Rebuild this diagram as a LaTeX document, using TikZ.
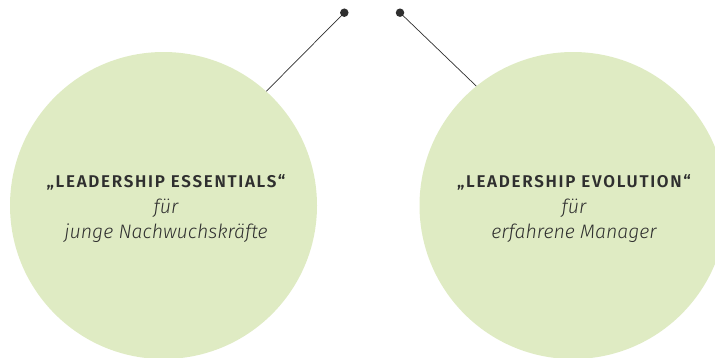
\documentclass[tikz,border=0pt]{standalone}
\usepackage{fontspec}
\setmainfont{Fira Sans Light}[ItalicFont={Fira Sans Light Italic}]
\newfontfamily\headfont{Fira Sans SemiBold}[LetterSpace=10]
\definecolor{circfill}{HTML}{DFEBC3}
\definecolor{ink}{HTML}{2F2F2F}
\begin{document}
\begin{tikzpicture}[x=1pt,y=-1pt,
  bubble/.style={circle,fill=circfill,minimum size=307pt,inner sep=0pt},
  label/.style={align=center,text=ink,font=\fontsize{19.5}{25.5}\selectfont\itshape},
  dot/.style={circle,fill=ink,inner sep=0pt,minimum size=8.5pt},
  connector/.style={draw=ink,line width=0.7pt}]
\useasboundingbox (0,0) rectangle (715,357);
\node[bubble] (circL) at (163.5,205.5) {};
\node[bubble] (circR) at (573,205.5) {};
\node[dot] (dotL) at (344.3,12.7) {};
\node[dot] (dotR) at (400,12.7) {};
\draw[connector] (dotL.center) -- (circL.48.5);
\draw[connector] (dotR.center) -- (circR.129.5);
\node[label] (textL) at (166,209) {{\upshape\headfont\fontsize{17}{25.5}\selectfont „LEADERSHIP ESSENTIALS“}\\für\\junge Nachwuchskräfte};
\node[label] (textR) at (574,209) {{\upshape\headfont\fontsize{17}{25.5}\selectfont „LEADERSHIP EVOLUTION“}\\für\\erfahrene Manager};
\end{tikzpicture}
\end{document}
